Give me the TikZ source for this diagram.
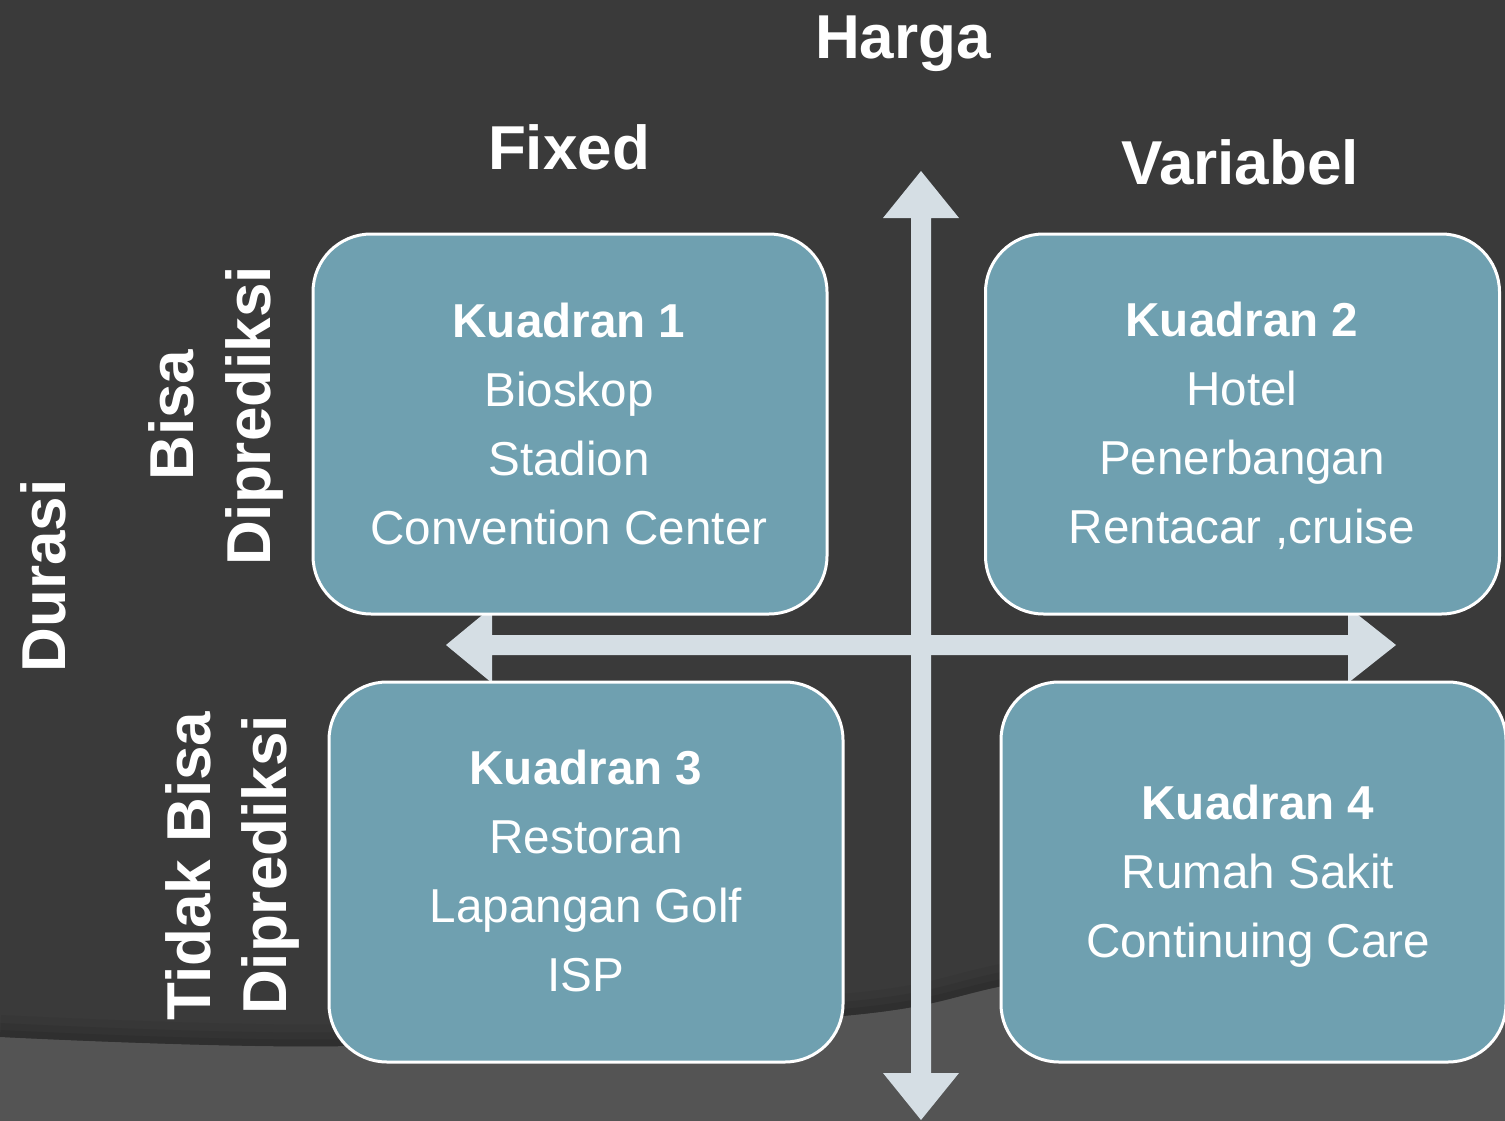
\documentclass[tikz,border=0pt]{standalone}
\usepackage{fontspec}
\setmainfont{Liberation Sans}
\definecolor{bgdark}{HTML}{3A3A3A}
\definecolor{bglight}{HTML}{545454}
\definecolor{boxfill}{HTML}{6FA0B0}
\definecolor{arrowc}{HTML}{D5DEE4}
\begin{document}
\begin{tikzpicture}[x=1pt,y=-1pt,
  quad/.style={draw=white, line width=3pt, fill=boxfill, rounded corners=58pt, inner sep=0pt, minimum height=380pt},
  qtext/.style={text=white, align=center, inner sep=0pt, font=\fontsize{47.6}{69}\selectfont},
  headtxt/.style={text=white, inner sep=0pt, font=\fontsize{62}{62}\selectfont\bfseries},
  axisfill/.style={fill=arrowc}]
\useasboundingbox (0,0) rectangle (1505,1121);
\fill[bgdark] (0,0) rectangle (1505,1121);
\fill[bglight] (0,1121) -- plot[smooth] coordinates {(0,1037) (350,1046) (843,1016) (998,987) (1200,940) (1505,860)} -- (1505,1121) -- cycle;
\begin{scope}
  \clip (1505,0) -- (0,0) -- plot[smooth] coordinates {(0,1037) (350,1046) (843,1016) (998,987) (1200,940) (1505,860)} -- cycle;
  \foreach \w/\o in {44/0.05, 28/0.06, 14/0.08}
    \draw[line width=\w pt, black, opacity=\o] plot[smooth] coordinates {(0,1037) (350,1046) (843,1016) (998,987) (1200,940) (1505,860)};
\end{scope}
% axes
\coordinate (vtop) at (921,171);
\coordinate (vbot) at (921,1120);
\coordinate (hleft) at (446,645);
\coordinate (hright) at (1396,645);
\fill[axisfill] (vtop) -- (959,218) -- (931,218) -- (931,1073) -- (959,1073) -- (vbot)
  -- (883,1073) -- (911,1073) -- (911,218) -- (883,218) -- cycle;
\fill[axisfill] (hleft) -- (492,607) -- (492,635) -- (1348,635) -- (1348,607) -- (hright)
  -- (1348,683) -- (1348,655) -- (492,655) -- (492,683) -- cycle;
% boxes
\node[quad, minimum width=514pt] (q1) at (570,424) {};
\node[quad, minimum width=514pt] (q2) at (1242.5,424) {};
\node[quad, minimum width=514pt] (q3) at (586,872) {};
\node[quad, minimum width=505pt] (q4) at (1253.5,872) {};
\node[qtext] (t1) at (569,423.5) {\textbf{Kuadran 1}\\Bioskop\\Stadion\\Convention Center};
\node[qtext] (t2) at (1242,426) {\textbf{Kuadran 2}\\Hotel\\Penerbangan\\Rentacar ,cruise};
\node[qtext] (t3) at (586,871) {\textbf{Kuadran 3}\\Restoran\\Lapangan Golf\\ISP};
\node[qtext] (t4) at (1258,871) {\textbf{Kuadran 4}\\Rumah Sakit\\\smash{Continuing Care}};
% headings
\node[headtxt, anchor=base] (harga) at (903,59) {Harga};
\node[headtxt, anchor=base] (fixed) at (569,170) {Fixed};
\node[headtxt, anchor=base] (variabel) at (1240,185) {Variabel};
\node[headtxt, rotate=90, anchor=base] (durasi) at (65,576) {Durasi};
\node[headtxt, rotate=90, anchor=base] (bisa) at (193,415) {Bisa};
\node[headtxt, rotate=90, anchor=base] (dip1) at (270,416) {Diprediksi};
\node[headtxt, rotate=90, anchor=base] (tidak) at (210,866) {Tidak Bisa};
\node[headtxt, rotate=90, anchor=base] (dip2) at (286,865) {Diprediksi};
\end{tikzpicture}
\end{document}
